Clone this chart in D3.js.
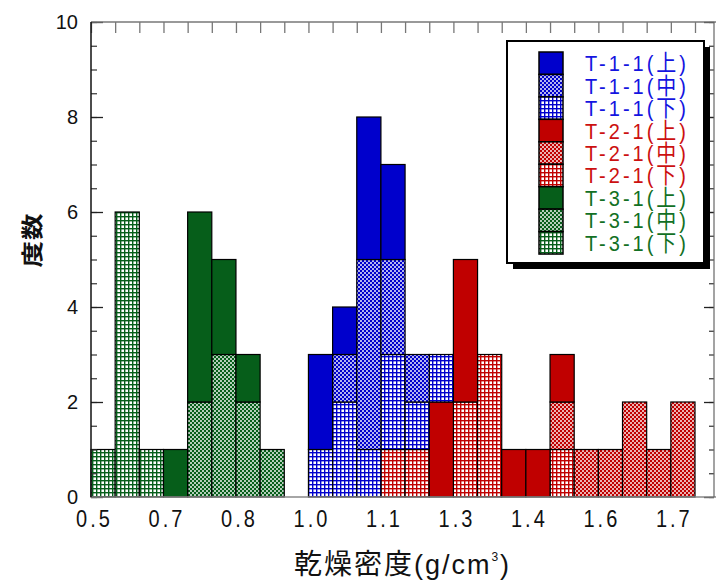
<!DOCTYPE html>
<html><head><meta charset="utf-8">
<script src="https://cdn.jsdelivr.net/npm/d3@7"></script>
<style>body{margin:0;background:#fff}svg{display:block}</style>
</head><body><svg id="c" width="716" height="581"></svg>
<script>
// ---- data ----
const binStarts = [0.50,0.55,0.60,0.65,0.70,0.75,0.80,0.85,0.90,0.95,1.00,1.05,1.10,1.15,1.20,1.25,1.30,1.35,1.40,1.45,1.50,1.55,1.60,1.65,1.70];
const binWidth = 0.05;
const t11Top = [0,0,0,0,0,0,0,0,0,2,1,3,2,0,0,0,0,0,0,0,0,0,0,0,0];
const t11Mid = [0,0,0,0,0,0,0,0,0,0,1,4,2,1,0,0,0,0,0,0,0,0,0,0,0];
const t11Bot = [0,0,0,0,0,0,0,0,0,1,2,1,2,1,1,0,0,0,0,0,0,0,0,0,0];
const t21Top = [0,0,0,0,0,0,0,0,0,0,0,0,0,0,2,3,0,1,1,1,0,0,0,0,0];
const t21Mid = [0,0,0,0,0,0,0,0,0,0,0,0,0,0,0,0,0,0,0,1,1,1,2,1,2];
const t21Bot = [0,0,0,0,0,0,0,0,0,0,0,0,1,1,0,2,3,0,0,1,0,0,0,0,0];
const t31Top = [0,0,0,1,4,2,1,0,0,0,0,0,0,0,0,0,0,0,0,0,0,0,0,0,0];
const t31Mid = [0,0,0,0,2,3,2,1,0,0,0,0,0,0,0,0,0,0,0,0,0,0,0,0,0];
const t31Bot = [1,6,1,0,0,0,0,0,0,0,0,0,0,0,0,0,0,0,0,0,0,0,0,0,0];
const xTickValues = [0.50,0.65,0.80,0.95,1.10,1.25,1.40,1.55,1.70];
const xTickLabels = ["0.5","0.7","0.8","1.0","1.1","1.3","1.4","1.6","1.7"];
const yTickValues = [0,2,4,6,8,10];
const yTickLabels = ["0","2","4","6","8","10"];
const seriesNames = ["T-1-1(上)","T-1-1(中)","T-1-1(下)","T-2-1(上)","T-2-1(中)","T-2-1(下)","T-3-1(上)","T-3-1(中)","T-3-1(下)"];
const seriesValues = [t11Top,t11Mid,t11Bot,t21Top,t21Mid,t21Bot,t31Top,t31Mid,t31Bot];
const stackOrder = ["T-2-1(下)","T-2-1(中)","T-2-1(上)","T-1-1(下)","T-1-1(中)","T-1-1(上)","T-3-1(下)","T-3-1(中)","T-3-1(上)"];

// ---- styles ----
const groupColor = {"T-1-1":"#0000cc","T-2-1":"#c00000","T-3-1":"#065e1a"};
const textColor = {"T-1-1":"#1414e0","T-2-1":"#cc1010","T-3-1":"#127024"};
const m={l:91,r:714,t:22,b:497};

const svg = d3.select("#c");
const defs = svg.append("defs");
Object.entries(groupColor).forEach(([g,c])=>{
  const id=g.replace(/-/g,"");
  const pg=defs.append("pattern").attr("id","grid"+id).attr("patternUnits","userSpaceOnUse")
    .attr("width",4).attr("height",4);
  pg.append("rect").attr("width",4).attr("height",4).attr("fill","#fff");
  pg.append("rect").attr("x",0).attr("y",0).attr("width",4).attr("height",1.4).attr("fill",c);
  pg.append("rect").attr("x",0).attr("y",0).attr("width",1.4).attr("height",4).attr("fill",c);
  const pc=defs.append("pattern").attr("id","chk"+id).attr("patternUnits","userSpaceOnUse")
    .attr("width",4).attr("height",4);
  pc.append("rect").attr("width",4).attr("height",4).attr("fill",c);
  pc.append("circle").attr("cx",1).attr("cy",1).attr("r",0.95).attr("fill","#fff");
  pc.append("circle").attr("cx",3).attr("cy",3).attr("r",0.95).attr("fill","#fff");
});
function fillFor(name){
  const g=name.slice(0,5), id=g.replace(/-/g,"");
  if(name.includes("上")) return groupColor[g];
  if(name.includes("中")) return `url(#chk${id})`;
  return `url(#grid${id})`;
}

const x = d3.scaleLinear().domain([0.5, 0.5 + (m.r-m.l)/483.2]).range([m.l,m.r]);
const y = d3.scaleLinear().domain([0,10]).range([m.b,m.t]);

const table = binStarts.map((b,i)=>{
  const o={bin:b};
  seriesNames.forEach((n,k)=>o[n]=seriesValues[k][i]);
  return o;
});
const stacked = d3.stack().keys(stackOrder)(table);

const bars = svg.append("g");
stacked.forEach(layer=>{
  bars.append("g").attr("fill",fillFor(layer.key))
    .selectAll("rect").data(layer.filter(d=>d[1]>d[0])).join("rect")
    .attr("x",d=>x(d.data.bin))
    .attr("width",d=>x(d.data.bin+binWidth)-x(d.data.bin))
    .attr("y",d=>y(d[1]))
    .attr("height",d=>y(d[0])-y(d[1]))
    .attr("stroke","#000").attr("stroke-width",1.2);
});

// ---- axes ----
const minorY = d3.range(0,10.001,0.5);
const edges = binStarts.concat([1.75]);
const topAx = svg.append("g").attr("transform",`translate(0,${m.t})`)
  .call(d3.axisTop(x).tickValues(edges).tickSize(-11).tickFormat(""));
topAx.select(".domain").remove();
topAx.selectAll("line").attr("stroke","#777").attr("stroke-width",1.3);
const leftMinor = svg.append("g").attr("transform",`translate(${m.l},0)`)
  .call(d3.axisLeft(y).tickValues(minorY).tickSize(-6).tickFormat(""));
leftMinor.select(".domain").remove();
leftMinor.selectAll("line").attr("stroke","#333").attr("stroke-width",1.2);
const leftMajor = svg.append("g").attr("transform",`translate(${m.l},0)`)
  .call(d3.axisLeft(y).tickValues(yTickValues).tickSize(-12).tickPadding(13)
    .tickFormat((d,i)=>yTickLabels[i]));
leftMajor.select(".domain").remove();
leftMajor.selectAll("line").attr("stroke","#222").attr("stroke-width",1.3);
leftMajor.selectAll("text").attr("font-family","'Liberation Sans',Arial,sans-serif")
  .attr("font-size",20).attr("fill","#111");
const rightMinor = svg.append("g").attr("transform",`translate(${m.r},0)`)
  .call(d3.axisRight(y).tickValues(minorY).tickSize(-5).tickFormat(""));
rightMinor.select(".domain").remove();
rightMinor.selectAll("line").attr("stroke","#333").attr("stroke-width",1.2);
const rightMajor = svg.append("g").attr("transform",`translate(${m.r},0)`)
  .call(d3.axisRight(y).tickValues(yTickValues).tickSize(-10).tickFormat(""));
rightMajor.select(".domain").remove();
rightMajor.selectAll("line").attr("stroke","#222").attr("stroke-width",1.3);
const bottom = svg.append("g").attr("transform",`translate(0,${m.b})`)
  .call(d3.axisBottom(x).tickValues(xTickValues).tickSize(0).tickFormat((d,i)=>xTickLabels[i]));
bottom.select(".domain").remove();
bottom.selectAll("text").attr("y",0).attr("dy",null)
  .attr("transform","translate(3,30) scale(1,1.2)")
  .attr("font-family","'Liberation Sans',Arial,sans-serif").attr("font-size",20)
  .attr("letter-spacing",3).attr("fill","#111");

// frame
svg.append("line").attr("x1",m.l).attr("x2",m.r+2).attr("y1",m.t).attr("y2",m.t).attr("stroke","#777").attr("stroke-width",1.6);
svg.append("line").attr("x1",m.l).attr("x2",m.r+2).attr("y1",m.b).attr("y2",m.b).attr("stroke","#888").attr("stroke-width",1.6);
svg.append("line").attr("x1",m.l).attr("x2",m.l).attr("y1",m.t).attr("y2",m.b).attr("stroke","#111").attr("stroke-width",1.5);
svg.append("line").attr("x1",m.r).attr("x2",m.r).attr("y1",m.t).attr("y2",m.b).attr("stroke","#666").attr("stroke-width",1.2);

// axis titles
svg.append("text").attr("transform","translate(40,240) rotate(-90) scale(1.15,0.95)")
  .attr("text-anchor","middle").attr("font-family","'Noto Sans CJK JP',sans-serif")
  .attr("font-size",23).attr("font-weight","bold").attr("letter-spacing",1).attr("fill","#111").text("度数");
const xt = svg.append("text").attr("x",(m.l+m.r)/2).attr("y",574).attr("text-anchor","middle")
  .attr("font-family","'Liberation Sans','Noto Sans CJK JP',sans-serif").attr("font-size",27)
  .attr("letter-spacing",2).attr("fill","#111");
xt.append("tspan").attr("font-family","'Noto Sans CJK JP',sans-serif").attr("font-size",28).text("乾燥密度");
xt.append("tspan").text("(g/cm");
xt.append("tspan").attr("font-size",12).attr("dy",-13).text("3");
xt.append("tspan").attr("dy",13).text(")");

// legend
const lg = svg.append("g");
const L={x:507,y:41,w:197,h:222};
lg.append("rect").attr("x",L.x+6).attr("y",L.y+6).attr("width",L.w).attr("height",L.h).attr("fill","#000");
lg.append("rect").attr("x",L.x).attr("y",L.y).attr("width",L.w).attr("height",L.h)
  .attr("fill","#fff").attr("stroke","#000").attr("stroke-width",2);
const rowH=22.45, rowY0=52;
seriesNames.forEach((n,i)=>{
  const yy=rowY0+i*rowH;
  lg.append("rect").attr("x",539).attr("y",yy).attr("width",24).attr("height",rowH)
    .attr("fill",fillFor(n)).attr("stroke","#000").attr("stroke-width",1.5);
  const g=n.slice(0,5);
  const t=lg.append("text").attr("transform",`translate(585,${yy+rowH/2+8}) scale(1,1.12)`)
    .attr("font-family","'Liberation Sans','Noto Sans CJK JP',sans-serif").attr("font-size",20)
    .attr("letter-spacing",3).attr("fill",textColor[g]);
  t.append("tspan").text(n.slice(0,6));
  t.append("tspan").attr("font-family","'Noto Sans CJK JP',sans-serif").text(n.slice(6,7));
  t.append("tspan").text(n.slice(7));
});
</script></body></html>
